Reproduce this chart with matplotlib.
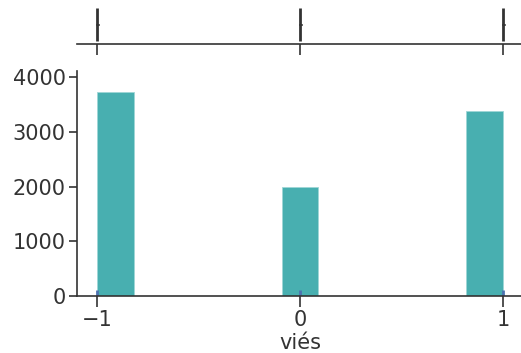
import numpy as np
import matplotlib as mpl
import matplotlib.pyplot as plt

mpl.use("agg")

# values and counts
values = [-1, 0, 1]
counts = [3720, 1990, 3380]
xticks = [-1, 0, 1]
yticks = [0, 1000, 2000, 3000, 4000]
xlabel = "viés"

bar_color = "#48afb0"
rug_color = "#4c72b0"
ink = "#333333"

mpl.rcParams["font.size"] = 15
mpl.rcParams["text.color"] = ink
mpl.rcParams["axes.labelcolor"] = ink
mpl.rcParams["xtick.color"] = ink
mpl.rcParams["ytick.color"] = ink

data = np.repeat(values, counts)

W, H = 521, 353
fig = plt.figure(figsize=(W / 100, H / 100), dpi=100)

left = 76.7 / W
width = 446.6 / W
ax_box = fig.add_axes([left, 1 - 44 / H, width, 39 / H])
ax = fig.add_axes([left, 1 - 296 / H, width, (296 - 71) / H])

# histogram, 11 bins over the data range
ax.hist(data, bins=11, range=(-1, 1), color=bar_color,
        edgecolor="#9fd6d6", linewidth=0.6)
ax.vlines(values, 0, 0.025, transform=ax.get_xaxis_transform(),
          color=rug_color, lw=2)
ax.set_xlim(-1.1, 1.1)
ax.set_ylim(0, 4110)
ax.set_xticks(xticks)
ax.set_yticks(yticks)
ax.set_xlabel(xlabel, labelpad=2)
for s in ("top", "right"):
    ax.spines[s].set_visible(False)
for s in ("left", "bottom"):
    ax.spines[s].set_color(ink)
    ax.spines[s].set_linewidth(1.2)
ax.tick_params(axis="x", length=8, width=1.2, pad=2)
ax.tick_params(axis="y", length=6, width=1.2, pad=2)

# marginal box: quartiles and median as vertical strokes
quarts = np.percentile(data, [25, 50, 75])
ax_box.vlines(quarts, 0.08, 0.92, color=ink, lw=2.0)
for q in quarts:
    ax_box.plot([q, q + 0.01], [0.5, 0.5], color=ink, lw=1.2)
ax_box.set_xlim(-1.1, 1.1)
ax_box.set_ylim(0, 1)
ax_box.set_xticks(xticks)
ax_box.set_xticklabels([])
ax_box.set_yticks([])
for s in ("top", "right", "left"):
    ax_box.spines[s].set_visible(False)
ax_box.spines["bottom"].set_color(ink)
ax_box.spines["bottom"].set_linewidth(1.2)
ax_box.tick_params(axis="x", length=8, width=1.2)

fig.savefig("out.png", dpi=100)
